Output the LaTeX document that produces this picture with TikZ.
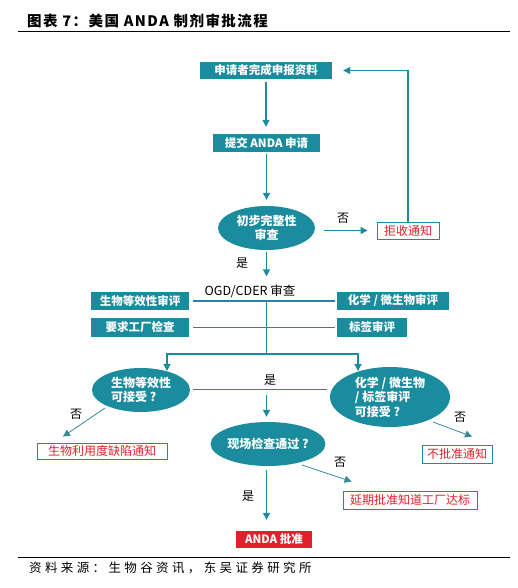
\documentclass[tikz,border=0pt]{standalone}
\usepackage{fontspec}
\setmainfont{Noto Sans CJK SC}
\newfontfamily\titlefont[LetterSpace=10]{Noto Sans CJK SC}
\newfontfamily\srcfont[LetterSpace=27]{Noto Sans CJK SC}
\usetikzlibrary{shapes.geometric,arrows.meta,calc}
\definecolor{teal1}{HTML}{1A8C9D}
\definecolor{red1}{HTML}{E2202C}
\begin{document}
\begin{tikzpicture}[x=1pt,y=-1pt,
  tbox/.style={fill=teal1,text=white,inner sep=0pt,font=\bfseries\fontsize{11.5}{13}\selectfont},
  rbox/.style={draw=teal1,line width=0.9pt,fill=white,text=red1,inner sep=0pt,font=\fontsize{12}{13}\selectfont},
  dec/.style={ellipse,fill=teal1,text=white,inner sep=0pt,align=left,font=\bfseries\fontsize{12}{14.5}\selectfont},
  arr/.style={draw=teal1,line width=1.3pt,-{Triangle[length=7pt,width=7pt]}},
  darr/.style={draw=teal1!75!gray,line width=0.8pt,-{Triangle[length=7pt,width=7pt]}},
  link/.style={draw=teal1,line width=1.3pt},
  lbl/.style={font=\fontsize{12}{14}\selectfont,text=black,inner sep=0pt},
  rule/.style={draw=black,line width=1pt}]
\useasboundingbox (0,0) rectangle (517,588);

% title and rules
\node[anchor=west,inner sep=0pt,font=\titlefont\bfseries\fontsize{14.5}{16}\selectfont] (title) at (27,20.5) {图表 7：美国 ANDA 制剂审批流程};
\coordinate (tl) at (18,32); \coordinate (tr) at (510,32);
\draw[rule] (tl) -- (tr);
\coordinate (bl) at (18,557); \coordinate (br) at (510,557);
\draw[rule] (bl) -- (br);
\node[anchor=west,inner sep=0pt,font=\srcfont\fontsize{12.5}{14}\selectfont] (src) at (29,568) {资料来源：生物谷资讯，东吴证券研究所};

% nodes
\node[tbox,minimum width=132pt,minimum height=17pt] (b1) at (266,70.5) {申请者完成申报资料};
\node[tbox,minimum width=107pt,minimum height=18pt] (b2) at (266.5,143) {提交 ANDA 申请};
\node[dec,minimum width=97pt,minimum height=44pt,align=center] (e1) at (266.5,228) {初步完整性\\审查};
\node[rbox,minimum width=62pt,minimum height=17pt] (rej) at (408,230.5) {拒收通知};
\node[lbl,font=\fontsize{12.5}{14}\selectfont] (ogd) at (250,291) {OGD/CDER 审查};
\node[tbox,minimum width=98pt,minimum height=18pt] (bio) at (140,301) {生物等效性审评};
\node[tbox,minimum width=112pt,minimum height=18pt] (chem) at (393,301) {化学 / 微生物审评};
\node[tbox,minimum width=98pt,minimum height=19pt] (fac) at (140,327.5) {要求工厂检查};
\node[tbox,minimum width=70pt,minimum height=19pt] (lab) at (372,327.5) {标签审评};
\node[dec,minimum width=98pt,minimum height=44pt] (e2) at (141,390) {生物等效性\\可接受 ?};
\node[dec,minimum width=120pt,minimum height=60pt] (e3) at (390,397) {化学 / 微生物\\/ 标签审评\\可接受 ?};
\node[dec,minimum width=97pt,minimum height=44pt] (e4) at (268,444) {现场检查通过 ?};
\node[rbox,minimum width=130pt,minimum height=16pt] (bad1) at (102,451) {生物利用度缺陷通知};
\node[rbox,minimum width=70pt,minimum height=18pt] (bad2) at (457,454) {不批准通知};
\node[rbox,minimum width=134pt,minimum height=18pt] (delay) at (410,500) {延期批准知道工厂达标};
\node[fill=red1,text=white,inner sep=0pt,minimum width=76pt,minimum height=17pt,font=\bfseries\fontsize{11.5}{13}\selectfont] (ok) at (274,539.5) {ANDA 批准};

% labels
\node[lbl] (no1) at (343,218) {否};
\node[lbl] (yes1) at (242,263) {是};
\node[lbl] (yes2) at (270,380) {是};
\node[lbl] (no2) at (76,414) {否};
\node[lbl] (no3) at (460,417) {否};
\node[lbl] (no4) at (340,462) {否};
\node[lbl] (yes3) at (248,496) {是};

% connectors
\draw[arr,shorten <=3pt,shorten >=7pt] (b1.south) -- (b1.south |- b2.north);
\draw[arr,shorten <=2pt,shorten >=6pt] (b2.south) -- (b2.south |- e1.north);
\draw[arr,shorten <=9pt,shorten >=9pt] (e1.east |- rej.west) -- (rej.west);
\draw[arr,shorten >=11pt] (rej.north) |- (b1.east);
\draw[arr,shorten <=2pt,shorten >=8pt] (e1.south) -- (e1.south |- ogd.north);

\coordinate (hub) at (266.5,301);
\coordinate (split) at (266.5,354);
\coordinate (lt) at (167,371);
\coordinate (rt) at (358,371);
\draw[link,shorten <=4pt,shorten >=2pt] (bio.east) -- (chem.west);
\draw[link,shorten <=4pt,shorten >=2pt] (fac.east) -- (lab.west);
\draw[link] (hub) -- (split);
\draw[arr] (split) -| (lt);
\draw[arr] (split) -| (rt);

\coordinate (yl) at (0,389);
\draw[link,line width=1pt,shorten <=3pt,shorten >=3pt] (e2.east |- yl) -- (e3.west |- yl);
\coordinate (mid) at (266.5,395);
\draw[arr,shorten >=5pt] (mid) -- (mid |- e4.north);

\draw[darr] ($(e2.center)+(-36,18)$) -- ($(bad1.north)+(-39,-6)$);
\draw[darr] ($(e3.center)+(43,25)$) -- ($(bad2.north)+(15,-8)$);
\draw[darr] ($(e4.center)+(34,21)$) -- ($(delay.north west)+(9,-9)$);
\coordinate (e4b) at (266.5,470);
\draw[arr,shorten >=11pt] (e4b) -- (e4b |- ok.north);
\end{tikzpicture}
\end{document}
